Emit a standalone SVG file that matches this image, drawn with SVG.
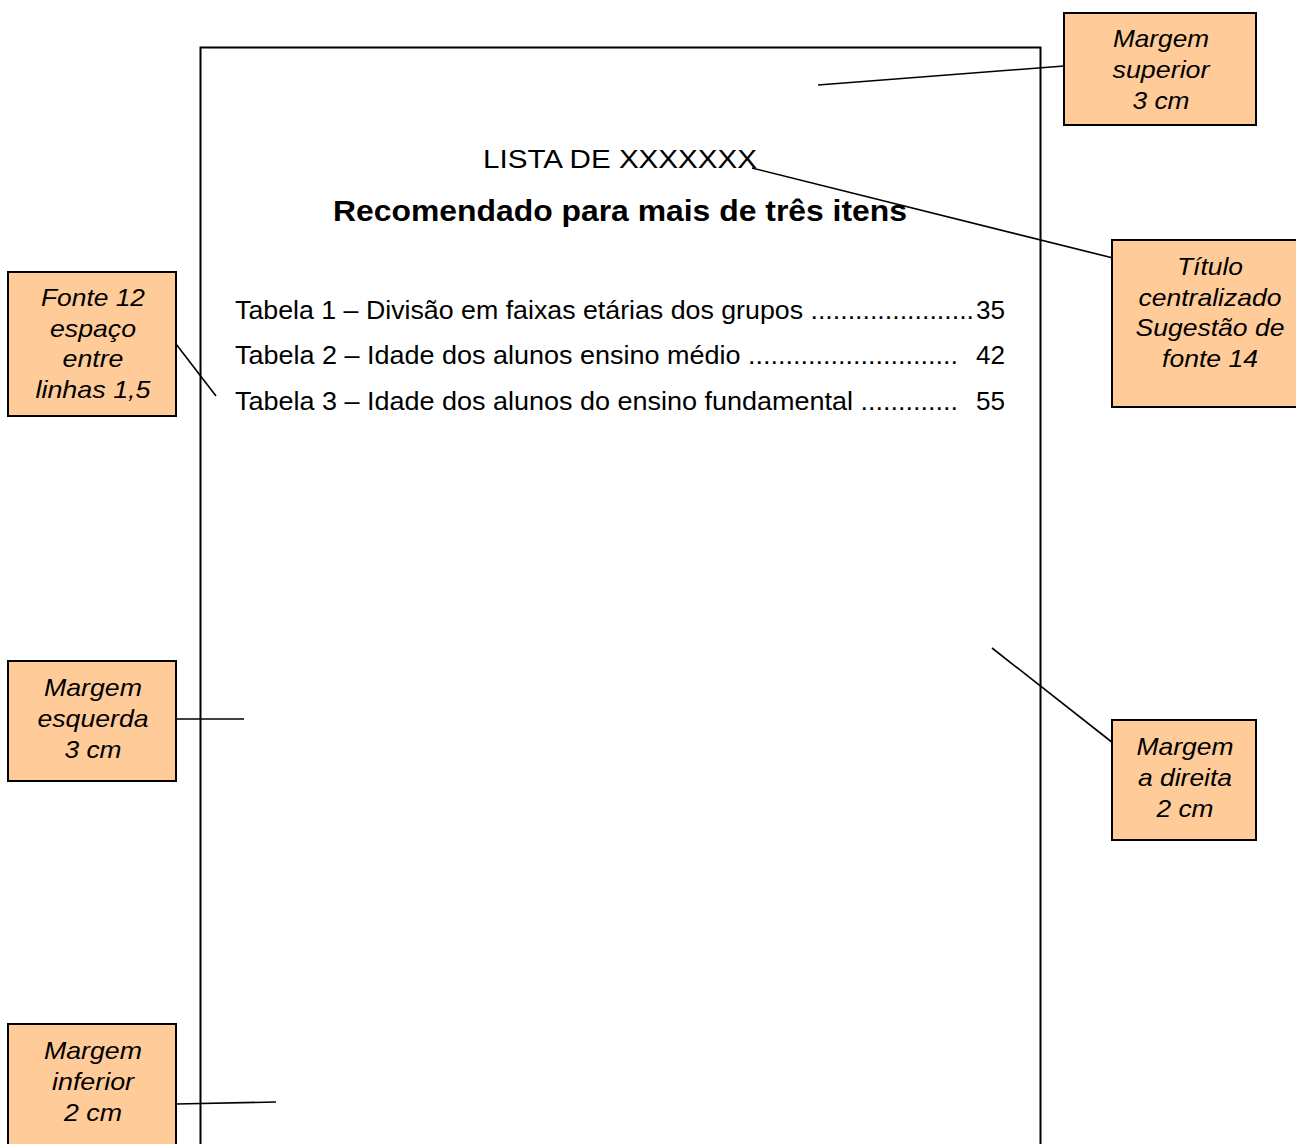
<svg xmlns="http://www.w3.org/2000/svg" width="1296" height="1144" viewBox="0 0 1296 1144">
  <style>
    .page { fill: #ffffff; stroke: #000000; stroke-width: 2; }
    .note rect { fill: #ffcc99; stroke: #000000; stroke-width: 2; }
    .note text { font-family: "Liberation Sans", Arial, sans-serif; font-style: italic; font-size: 24px; fill: #000000; text-anchor: middle; }
    .body { font-family: "Liberation Sans", Arial, sans-serif; fill: #000000; }
    .entry { font-family: "Liberation Sans", Arial, sans-serif; font-size: 26px; fill: #000000; }
    .num { text-anchor: end; }
    .links line { stroke: #000000; stroke-width: 1.6; }
  </style>
  <rect width="1296" height="1144" fill="#ffffff"/>

  <!-- page sheet -->
  <g id="page">
    <rect class="page" x="200.5" y="47.5" width="840" height="1110"/>
    <text class="body" x="620" y="168" font-size="26" text-anchor="middle" textLength="274" lengthAdjust="spacingAndGlyphs">LISTA DE XXXXXXX</text>
    <text class="body" x="620" y="221" font-size="29" font-weight="bold" text-anchor="middle" textLength="574" lengthAdjust="spacingAndGlyphs">Recomendado para mais de três itens</text>
    <!-- list entries: label with leader dots, page number right-aligned -->
    <text class="entry" x="235" y="319" textLength="739" lengthAdjust="spacingAndGlyphs">Tabela 1 – Divisão em faixas etárias dos grupos ......................</text>
    <text class="entry num" x="1005" y="319" textLength="29" lengthAdjust="spacingAndGlyphs">35</text>
    <text class="entry" x="235" y="364" textLength="723" lengthAdjust="spacingAndGlyphs">Tabela 2 – Idade dos alunos ensino médio ............................</text>
    <text class="entry num" x="1005" y="364" textLength="29" lengthAdjust="spacingAndGlyphs">42</text>
    <text class="entry" x="235" y="410" textLength="723" lengthAdjust="spacingAndGlyphs">Tabela 3 – Idade dos alunos do ensino fundamental .............</text>
    <text class="entry num" x="1005" y="410" textLength="29" lengthAdjust="spacingAndGlyphs">55</text>
  </g>

  <!-- callout leader lines -->
  <g id="connectors" class="links">
    <line x1="818" y1="85" x2="1064" y2="66"/>
    <line x1="752" y1="168" x2="1113" y2="258"/>
    <line x1="176" y1="344" x2="216" y2="396"/>
    <line x1="176" y1="719" x2="244" y2="719"/>
    <line x1="992" y1="648" x2="1113" y2="743"/>
    <line x1="176" y1="1104" x2="276" y2="1102"/>
  </g>

  <g id="margem-superior" class="note">
    <rect x="1064" y="13" width="192" height="112"/>
    <text x="1161" y="47" textLength="96" lengthAdjust="spacingAndGlyphs">Margem</text>
    <text x="1161" y="78" textLength="97" lengthAdjust="spacingAndGlyphs">superior</text>
    <text x="1161" y="109" textLength="57" lengthAdjust="spacingAndGlyphs">3 cm</text>
  </g>

  <g id="titulo-centralizado" class="note">
    <rect x="1112" y="240" width="190" height="167"/>
    <text x="1210" y="275" textLength="66" lengthAdjust="spacingAndGlyphs">Título</text>
    <text x="1210" y="306" textLength="143" lengthAdjust="spacingAndGlyphs">centralizado</text>
    <text x="1210" y="336" textLength="149" lengthAdjust="spacingAndGlyphs">Sugestão de</text>
    <text x="1210" y="367" textLength="96" lengthAdjust="spacingAndGlyphs">fonte 14</text>
  </g>

  <g id="fonte-12" class="note">
    <rect x="8" y="272" width="168" height="144"/>
    <text x="93" y="306" textLength="104" lengthAdjust="spacingAndGlyphs">Fonte 12</text>
    <text x="93" y="337" textLength="86" lengthAdjust="spacingAndGlyphs">espaço</text>
    <text x="93" y="367" textLength="61" lengthAdjust="spacingAndGlyphs">entre</text>
    <text x="93" y="398" textLength="115" lengthAdjust="spacingAndGlyphs">linhas 1,5</text>
  </g>

  <g id="margem-esquerda" class="note">
    <rect x="8" y="661" width="168" height="120"/>
    <text x="93" y="696" textLength="98" lengthAdjust="spacingAndGlyphs">Margem</text>
    <text x="93" y="727" textLength="111" lengthAdjust="spacingAndGlyphs">esquerda</text>
    <text x="93" y="758" textLength="57" lengthAdjust="spacingAndGlyphs">3 cm</text>
  </g>

  <g id="margem-direita" class="note">
    <rect x="1112" y="720" width="144" height="120"/>
    <text x="1185" y="755" textLength="97" lengthAdjust="spacingAndGlyphs">Margem</text>
    <text x="1185" y="786" textLength="94" lengthAdjust="spacingAndGlyphs">a direita</text>
    <text x="1185" y="817" textLength="57" lengthAdjust="spacingAndGlyphs">2 cm</text>
  </g>

  <g id="margem-inferior" class="note">
    <rect x="8" y="1024" width="168" height="130"/>
    <text x="93" y="1059" textLength="98" lengthAdjust="spacingAndGlyphs">Margem</text>
    <text x="93" y="1090" textLength="82" lengthAdjust="spacingAndGlyphs">inferior</text>
    <text x="93" y="1121" textLength="58" lengthAdjust="spacingAndGlyphs">2 cm</text>
  </g>
</svg>
